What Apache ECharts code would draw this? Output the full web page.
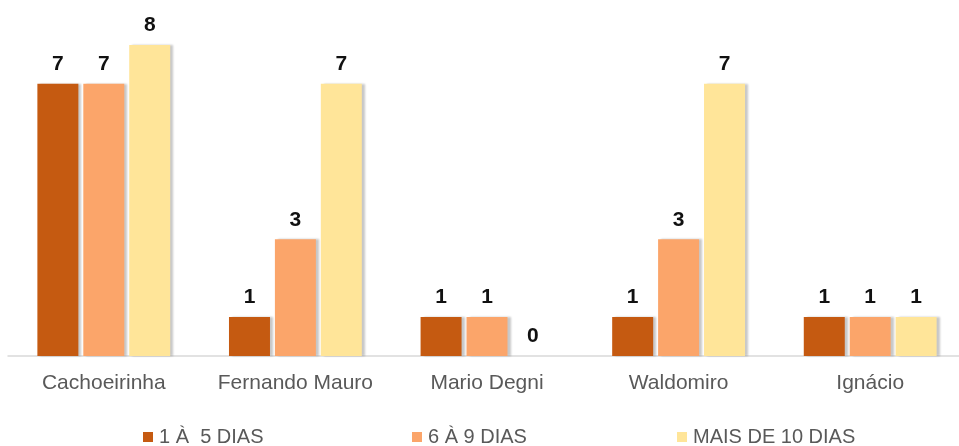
<!DOCTYPE html>
<html>
<head>
<meta charset="utf-8">
<script src="https://cdn.jsdelivr.net/npm/echarts@6/dist/echarts.min.js"></script>
<style>html,body{margin:0;padding:0;background:#fff;}#c{width:959px;height:446px;}</style>
</head>
<body>
<div id="c"></div>
<script>
const categories = ['Cachoeirinha', 'Fernando Mauro', 'Mario Degni', 'Waldomiro', 'Ignácio'];
const seriesNames = ['1 À  5 DIAS', '6 À 9 DIAS', 'MAIS DE 10 DIAS'];
const s1 = [7, 1, 1, 1, 1];
const s2 = [7, 3, 1, 3, 1];
const s3 = [8, 7, 0, 7, 1];
const colors = ['#C55A11', '#FBA56A', '#FFE599'];

const chart = echarts.init(document.getElementById('c'));
const font = 'Liberation Sans, Arial, sans-serif';
const mk = (name, data, color) => ({
  name, type: 'bar', data,
  barWidth: 41, barGap: '12%',
  itemStyle: { color, shadowColor: 'rgba(0,0,0,0.22)', shadowOffsetX: 3, shadowBlur: 2 },
  label: { show: true, position: 'top', distance: 9, color: '#111', fontWeight: 'bold', fontSize: 21, fontFamily: font },
  emphasis: { disabled: true }
});
const legendPos = [138, 407, 672];
chart.setOption({
  animation: false,
  color: colors,
  grid: { left: 8, width: 958, top: 6, bottom: 90, outerBoundsMode: 'none', containLabel: false },
  legend: seriesNames.map((n, i) => ({
    data: [n], left: legendPos[i], top: 422, itemWidth: 10, itemHeight: 10, itemGap: 4,
    icon: 'rect',
    textStyle: { color: '#595959', fontSize: 20, fontFamily: font, padding: [0,0,0,1] }
  })),
  xAxis: {
    type: 'category', data: categories,
    axisLine: { lineStyle: { color: '#D9D9D9', width: 1.5 } },
    axisTick: { show: false },
    axisLabel: { color: '#595959', fontSize: 21, fontFamily: font, margin: 17, interval: 0, hideOverlap: false }
  },
  yAxis: { type: 'value', min: 0, max: 9, show: false, splitLine: { show: false } },
  series: [mk(seriesNames[0], s1, colors[0]), mk(seriesNames[1], s2, colors[1]), mk(seriesNames[2], s3, colors[2])]
});
</script>
</body>
</html>
